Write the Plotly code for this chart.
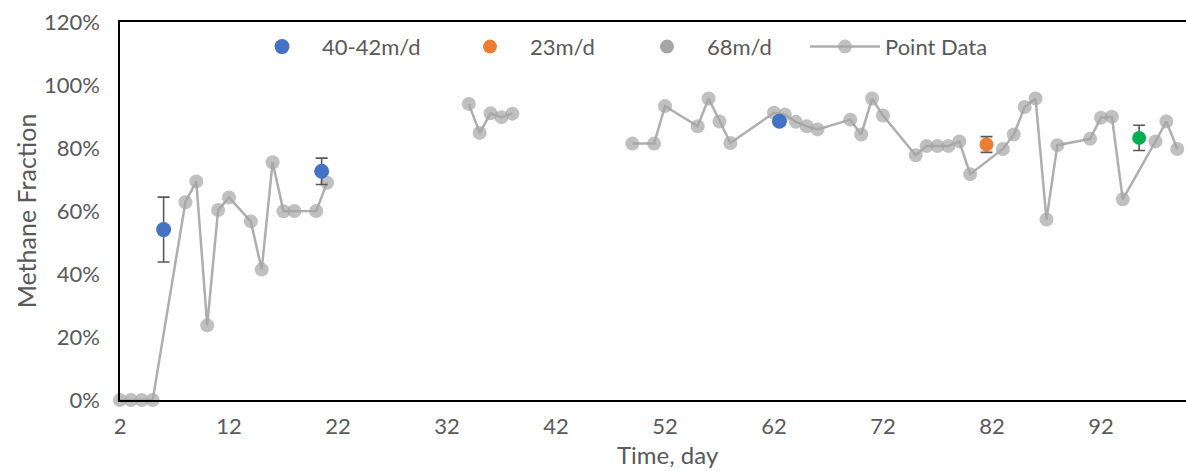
import plotly.graph_objects as go

# ---- data ----
point_days = [2, 3, 4, 5, 8, 9, 10, 11, 12, 14, 15, 16, 17, 18, 20, 21, 22,
              34, 35, 36, 37, 38, 40,
              49, 51, 52, 55, 56, 57, 58, 62, 63, 64, 65, 66, 69, 70, 71, 72,
              75, 76, 77, 78, 79, 80, 83, 84, 85, 86, 87, 88, 91, 92, 93, 94,
              97, 98, 99]
point_vals = [0.0, 0.0, 0.0, 0.0, 0.628, 0.694, 0.237, 0.603, 0.643, 0.567, 0.414,
              0.755, 0.599, 0.600, 0.600, 0.690, None,
              0.940, 0.848, 0.910, 0.898, 0.909, None,
              0.814, 0.814, 0.933, 0.869, 0.957, 0.884, 0.816, 0.912, 0.906,
              0.883, 0.869, 0.859, 0.890, 0.843, 0.957, 0.903,
              0.777, 0.806, 0.806, 0.806, 0.821, 0.717, 0.797, 0.843, 0.930,
              0.957, 0.573, 0.809, 0.829, 0.896, 0.899, 0.637,
              0.821, 0.884, 0.797]

blue_days = [6, 20.5, 62.5]
blue_vals = [0.541, 0.726, 0.885]
blue_err = [0.103, 0.042, 0.012]

orange_days = [81.5]
orange_vals = [0.811]
orange_err = [0.025]

green_days = [95.5]
green_vals = [0.832]
green_err = [0.040]

x_ticks = [2, 12, 22, 32, 42, 52, 62, 72, 82, 92]
y_ticks = [0, 0.2, 0.4, 0.6, 0.8, 1.0, 1.2]

FONT = "Lato"
TXT = "#595959"
ERRC = "#595959"

fig = go.Figure()

fig.add_trace(go.Scatter(
    x=point_days, y=point_vals, name="Point Data", mode="lines+markers",
    connectgaps=False, cliponaxis=False, legend="legend4",
    line=dict(color="rgba(140,140,140,0.7)", width=2.5),
    marker=dict(color="rgba(165,165,165,0.7)", size=14, line=dict(width=0)),
))

fig.add_trace(go.Scatter(
    x=blue_days, y=blue_vals, name="40-42m/d", mode="markers", legend="legend",
    cliponaxis=False,
    marker=dict(color="#4472C4", size=15),
    error_y=dict(type="data", array=blue_err, color=ERRC, thickness=1.6, width=6),
))

fig.add_trace(go.Scatter(
    x=orange_days, y=orange_vals, name="23m/d", mode="markers", legend="legend2",
    cliponaxis=False,
    marker=dict(color="#ED7D31", size=14),
    error_y=dict(type="data", array=orange_err, color=ERRC, thickness=1.6, width=6),
))

# legend entry for 68m/d (grey swatch as in the reference legend)
fig.add_trace(go.Scatter(
    x=[None], y=[None], name="68m/d", mode="markers", legend="legend3",
    marker=dict(color="#A5A5A5", size=14),
))

fig.add_trace(go.Scatter(
    x=green_days, y=green_vals, name="68m/d", mode="markers", showlegend=False,
    cliponaxis=False,
    marker=dict(color="#00B050", size=14),
    error_y=dict(type="data", array=green_err, color=ERRC, thickness=1.6, width=6),
))

L, T, B, W, H = 120, 22, 71, 1186, 471
plot_w = W - L
plot_h = H - T - B


def leg(px):
    return dict(orientation="h", x=(px - L) / plot_w, y=0.99,
                xanchor="left", yanchor="top", bgcolor="rgba(0,0,0,0)",
                font=dict(size=22, color=TXT, family=FONT), itemwidth=70)


fig.update_layout(
    width=W, height=H,
    margin=dict(l=L, r=0, t=T, b=B),
    paper_bgcolor="white", plot_bgcolor="white",
    font=dict(family=FONT, color=TXT, size=22),
    showlegend=True,
    legend=leg(242), legend2=leg(450), legend3=leg(627), legend4=leg(805),
    xaxis=dict(range=[2, 99.8], tickmode="array", tickvals=x_ticks,
               ticktext=[str(t) for t in x_ticks],
               showgrid=False, zeroline=False, showline=True,
               linecolor="black", linewidth=1.5, mirror=True, ticks="",
               ticklabelstandoff=6, automargin=False),
    yaxis=dict(range=[0, 1.2], tickmode="array", tickvals=y_ticks,
               tickformat=".0%", showgrid=False, zeroline=False,
               showline=True, linecolor="black", linewidth=1.5, ticks="",
               ticklabelstandoff=14,
               title=dict(text="Methane Fraction", standoff=0,
                          font=dict(size=25, color=TXT)),
               automargin=False),
    annotations=[dict(text="Time, day", xref="paper", yref="paper",
                      x=(668 - L) / plot_w, y=-(B - 1) / plot_h,
                      xanchor="center", yanchor="bottom", showarrow=False,
                      borderpad=0,
                      font=dict(size=24, color=TXT, family=FONT))],
)

fig.write_html("out.html", config={"displayModeBar": False},
               post_script="document.body.style.margin='0';document.body.style.overflow='hidden';")
